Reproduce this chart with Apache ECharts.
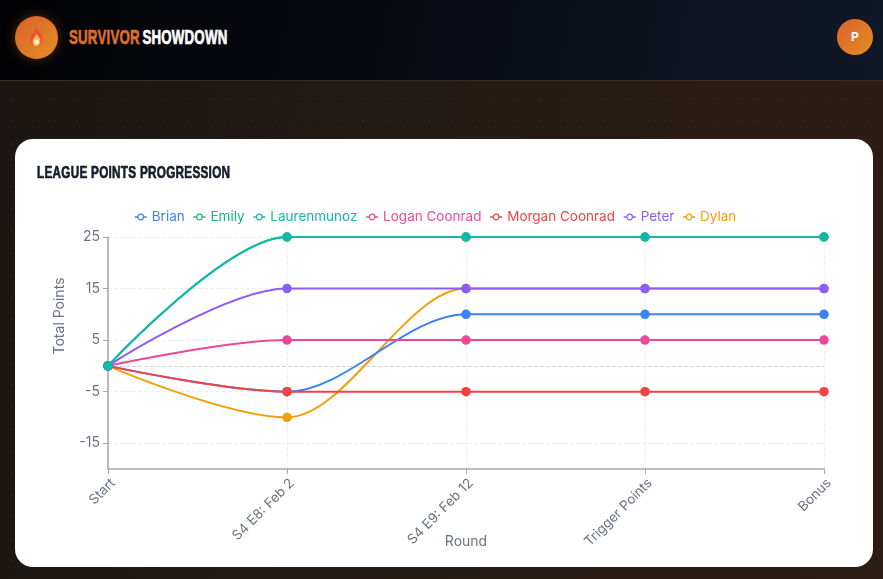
<!DOCTYPE html>
<html>
<head>
<meta charset="utf-8">
<script src="https://cdn.jsdelivr.net/npm/echarts@6/dist/echarts.min.js"></script>
<style>
html, body { margin: 0; padding: 0; width: 883px; height: 579px; overflow: hidden; }
body {
    position: relative;
    background-color: #231a15;
    background-image:
        radial-gradient(circle, rgba(230,120,40,0.06) 1px, transparent 1.4px),
        linear-gradient(100deg, #1a1613 0%, #241b15 50%, #2c1d14 100%);
    background-size: 22px 22px, 100% 100%;
    font-family: Inter, sans-serif;
}
.top {
    position: absolute; left: 0; top: 0; width: 883px; height: 80px;
    background: linear-gradient(100deg, #020204 0%, #0a0d16 55%, #101827 100%);
    border-bottom: 1px solid #3a2a1b;
}
.logo {
    position: absolute; left: 15px; top: 16px; width: 43px; height: 43px; border-radius: 50%;
    background: linear-gradient(135deg, #d9622b, #e68d24);
    box-shadow: 0 0 12px rgba(230,120,40,0.35);
}
.logo svg { position: absolute; left: 14px; top: 10px; }
.brand, .card-title {
    position: absolute; white-space: nowrap; transform-origin: left top;
    font-family: "Liberation Sans", sans-serif; font-weight: 700;
    -webkit-text-stroke: 0.7px currentColor;
}
.brand { left: 69px; top: 26px; font-size: 20px; line-height: 22px; color: #fff; transform: scaleX(0.665); letter-spacing: 0.3px; word-spacing: -2px; }
.brand b { color: #de6e28; }
.avatar {
    position: absolute; left: 837px; top: 19px; width: 36px; height: 36px; border-radius: 50%;
    background: linear-gradient(135deg, #d9622b, #e68d24);
    color: #fff; font-size: 12px; font-weight: 700; text-align: center; line-height: 36px;
}
.card {
    position: absolute; left: 15px; top: 139px; width: 858px; height: 428px;
    background: #fff; border-radius: 18px; overflow: hidden;
}
.card-title { left: 22px; top: 24px; font-size: 17px; line-height: 19px; color: #151c2c; letter-spacing: 0.4px; transform: scaleX(0.69); }
#chartWrapper { position: absolute; left: 0; top: 0; width: 858px; height: 428px; }
</style>
</head>
<body>
<div class="top">
    <div class="logo">
        <svg width="15" height="20" viewBox="0 0 21 25" preserveAspectRatio="none">
            <path d="M10 0 C11 5 18 8 19 15 C20 21 15 25 10 25 C5 25 1 21 2 15 C2.5 12 4 10 5 8 C5.5 10 6.5 11 7.5 11 C8 7 8 3 10 0 Z" fill="#ef4f3a"/>
            <path d="M10.5 9 C11.5 12 16 14 16 18 C16 22 13 25 10 25 C7 25 4.5 22 5 18 C5.5 15 9 13 10.5 9 Z" fill="#fbb040"/>
            <circle cx="10.5" cy="20" r="3.4" fill="#fff1cf"/>
        </svg>
    </div>
    <div class="brand"><b>SURVIVOR</b> SHOWDOWN</div>
    <div class="avatar">P</div>
</div>
<div class="card">
    <div id="chartWrapper"></div>
    <div class="card-title">LEAGUE POINTS PROGRESSION</div>
</div>
<script>
let rounds = ['Start', 'S4 E8: Feb 2', 'S4 E9: Feb 12', 'Trigger Points', 'Bonus'];
let yTicks = [-15, -5, 5, 15, 25];
let brian = [0, -5, 10, 10, 10];
let emily = [0, 25, 25, 25, 25];
let laurenmunoz = [0, 25, 25, 25, 25];
let loganCoonrad = [0, 5, 5, 5, 5];
let morganCoonrad = [0, -5, -5, -5, -5];
let peter = [0, 15, 15, 15, 15];
let dylan = [0, -10, 15, 15, 15];

let legendNames = ['Brian', 'Emily', 'Laurenmunoz', 'Logan Coonrad', 'Morgan Coonrad', 'Peter', 'Dylan'];
let legendColors = ['#3b82f6', '#10b981', '#14b8a6', '#ec4899', '#ef4444', '#8b5cf6', '#f59e0b'];

function makeLine(name, values, z) {
    let color = legendColors[legendNames.indexOf(name)];
    return {
        name: name,
        type: 'line',
        data: values,
        z: z,
        smooth: 0.33,
        smoothMonotone: 'x',
        symbol: 'circle',
        symbolSize: 9.5,
        showSymbol: true,
        lineStyle: { color: color, width: 2 },
        itemStyle: { color: color, borderWidth: 0 }
    };
}

let myChart = echarts.init(document.getElementById('chartWrapper'));

let seriesData = [
    makeLine('Dylan', dylan, 2),
    makeLine('Brian', brian, 3),
    makeLine('Logan Coonrad', loganCoonrad, 4),
    makeLine('Morgan Coonrad', morganCoonrad, 5),
    makeLine('Peter', peter, 6),
    makeLine('Emily', emily, 7),
    makeLine('Laurenmunoz', laurenmunoz, 8)
];
// dashed zero line
seriesData[0].markLine = {
    silent: true,
    symbol: 'none',
    label: { show: false },
    lineStyle: { color: '#d1d5db', type: 'dashed', width: 1 },
    data: [{ yAxis: 0 }],
    z: 1
};

let legendData = legendNames.map(function (name, i) {
    return {
        name: name,
        textStyle: { color: legendColors[i] },
        itemStyle: { color: '#fff', borderColor: legendColors[i], borderWidth: 1.2 },
        lineStyle: { color: legendColors[i], width: 1.5 }
    };
});

let option = {
    animation: false,
    legend: {
        show: true,
        data: legendData,
        top: 66,
        left: 114,
        itemWidth: 12,
        itemHeight: 7,
        itemGap: 8,
        textStyle: { fontFamily: 'Inter', fontSize: 13.5 }
    },
    grid: { left: 93, top: 98, width: 716, height: 232, outerBoundsMode: 'none' },
    xAxis: {
        type: 'category',
        boundaryGap: false,
        data: rounds,
        name: 'Round',
        nameLocation: 'middle',
        nameGap: 66,
        nameMoveOverlap: false,
        nameTextStyle: { color: '#6b7280', fontFamily: 'Inter', fontSize: 14 },
        axisLine: { onZero: false, lineStyle: { color: '#a3a6ae', width: 1.5 } },
        axisTick: { show: true, length: 5, lineStyle: { color: '#a3a6ae' } },
        axisLabel: { rotate: 45, interval: 0, color: '#6b7280', fontFamily: 'Inter', fontSize: 13.5, margin: 7, verticalAlign: 'top' },
        splitLine: { show: true, lineStyle: { color: '#eeeeee', type: 'dashed' } }
    },
    yAxis: {
        type: 'value',
        min: -20,
        max: 25,
        name: 'Total Points',
        nameLocation: 'middle',
        nameGap: 41,
        nameMoveOverlap: false,
        nameTextStyle: { color: '#6b7280', fontFamily: 'Inter', fontSize: 14, padding: [0, 0, 0, 74] },
        axisLine: { show: true, lineStyle: { color: '#a3a6ae', width: 1.5 } },
        axisTick: { show: true, length: 5, customValues: yTicks, lineStyle: { color: '#a3a6ae' } },
        axisLabel: { customValues: yTicks, color: '#6b7280', fontFamily: 'Inter', fontSize: 14, margin: 8 },
        splitLine: { show: true, lineStyle: { color: '#eeeeee', type: 'dashed' } }
    },
    series: seriesData
};

myChart.setOption(option);
</script>
</body>
</html>
